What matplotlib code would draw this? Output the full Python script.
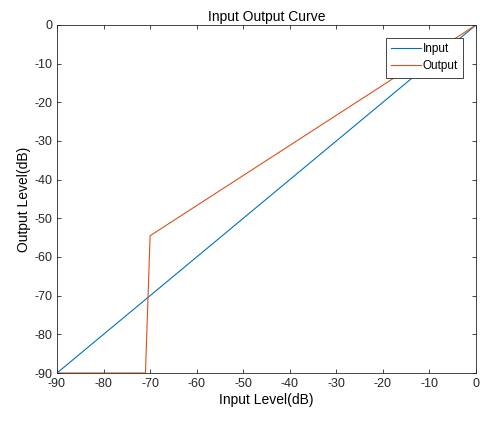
import matplotlib
matplotlib.use("Agg")
import matplotlib.pyplot as plt

plt.rcParams['font.family'] = ['Liberation Sans', 'DejaVu Sans']
plt.rcParams['axes.unicode_minus'] = False

input_x = [-90, 0]
input_y = [-90, 0]
output_x = [-90, -71, -70, 0]
output_y = [-90, -90, -54.5, 0]
xticks = [-90, -80, -70, -60, -50, -40, -30, -20, -10, 0]
yticks = [0, -10, -20, -30, -40, -50, -60, -70, -80, -90]

fig = plt.figure(figsize=(4.81, 4.23), dpi=100)
ax = fig.add_axes([0.1185, 0.1182, 0.8711, 0.8228])
ax.plot(input_x, input_y, color='#0072BD', lw=0.8, label='Input')
ax.plot(output_x, output_y, color='#D95319', lw=0.8, label='Output')
ax.set_xlim(-90, 0)
ax.set_ylim(-90, 0)
ax.set_xticks(xticks)
ax.set_yticks(yticks)
ax.tick_params(direction='in', top=True, right=True, labelsize=9, length=3, width=0.6, colors='#262626')
for s in ax.spines.values():
    s.set_linewidth(0.6)
    s.set_color('#262626')
ax.set_xlabel('Input Level(dB)', fontsize=10, labelpad=2)
ax.set_ylabel('Output Level(dB)', fontsize=10, labelpad=2)
ax.set_title('Input Output Curve', fontsize=10, pad=3)
leg = ax.legend(loc='upper right', bbox_to_anchor=(0.969, 0.963), fontsize=8.5, fancybox=False,
                framealpha=1, edgecolor='#262626', borderpad=0.45, handlelength=2.5,
                handletextpad=0.15, labelspacing=0.45, borderaxespad=0)
leg.get_frame().set_linewidth(0.6)
fig.savefig('out.png', dpi=100)
